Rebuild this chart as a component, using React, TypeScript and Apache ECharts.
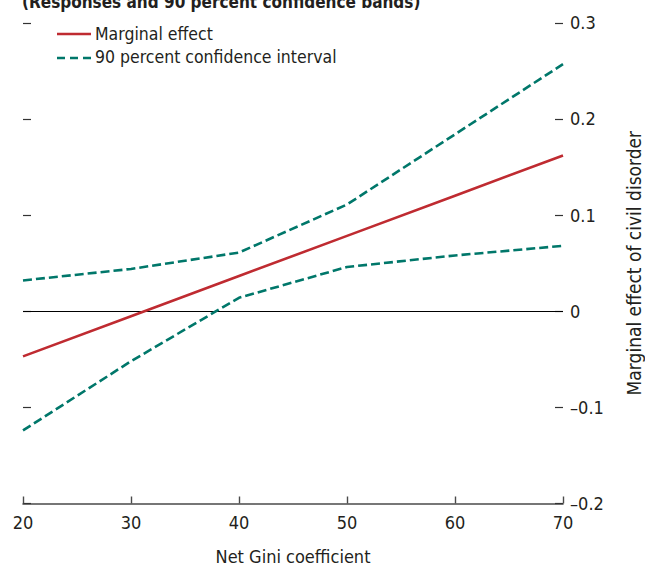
import React, { useEffect, useRef } from "react";
import * as echarts from "echarts";

const gini = [20, 30, 40, 50, 60, 70];
const marginal = [-0.047, -0.0052, 0.0366, 0.0784, 0.1202, 0.162];
const upper = [0.032, 0.044, 0.061, 0.111, 0.184, 0.257];
const lower = [-0.124, -0.052, 0.014, 0.046, 0.058, 0.068];
const xTicks = [20, 30, 40, 50, 60, 70];
const yTicks = [-0.2, -0.1, 0, 0.1, 0.2, 0.3];

const title = "(Responses and 90 percent confidence bands)";
const legendNames = ["Marginal effect", "90 percent confidence interval"];
const xName = "Net Gini coefficient";
const yName = "Marginal effect of civil disorder";

const FONT = "'Liberation Sans Narrow', 'DejaVu Sans Condensed', 'Liberation Sans', sans-serif";
const RED = "#BF2B31";
const TEAL = "#00776A";
const TXT = "#231F20";

function fmtY(v: number) {
  const r = Math.round(v * 10) / 10;
  if (r === 0) return "0";
  const s = Math.abs(r).toFixed(1);
  return r < 0 ? "\u2013" + s : s;
}

export default function App() {
  const ref = useRef<HTMLDivElement>(null);
  useEffect(() => {
    if (!ref.current) return;
    const chart = echarts.init(ref.current, undefined, { renderer: "svg" });
    const pair = (ys: number[]) => gini.map((g, i) => [g, ys[i]]);
    chart.setOption({
      animation: false,
      backgroundColor: "#ffffff",
      textStyle: { fontFamily: FONT },
      grid: {
        left: 23,
        right: 82,
        top: 22.8,
        bottom: 64.5,
        containLabel: false,
        outerBoundsMode: "none",
      },
      xAxis: {
        type: "value",
        min: xTicks[0],
        max: xTicks[xTicks.length - 1],
        interval: 10,
        name: xName,
        nameLocation: "middle",
        nameGap: 44,
        nameTextStyle: { fontFamily: FONT, fontSize: 18, color: TXT },
        axisLine: { show: true, onZero: false, lineStyle: { color: "#4a4a4a", width: 1.6 } },
        axisTick: { show: true, inside: true, length: 7, lineStyle: { color: "#4a4a4a", width: 1.4 } },
        axisLabel: { fontFamily: FONT, fontSize: 18, color: TXT, margin: 10 },
        splitLine: { show: false },
      },
      yAxis: [
        {
          type: "value",
          position: "right",
          min: yTicks[0],
          max: yTicks[yTicks.length - 1],
          interval: 0.1,
          name: yName,
          nameLocation: "middle",
          nameGap: 61,
          nameRotate: 90,
          nameTextStyle: { fontFamily: FONT, fontSize: 19, color: TXT },
          axisLine: { show: false },
          axisTick: { show: true, inside: true, length: 8, lineStyle: { color: "#333", width: 1.2 } },
          axisLabel: { fontFamily: FONT, fontSize: 18, color: TXT, margin: 7, formatter: fmtY },
          splitLine: { show: false },
        },
        {
          type: "value",
          position: "left",
          min: yTicks[0],
          max: yTicks[yTicks.length - 1],
          interval: 0.1,
          axisLine: { show: false },
          axisTick: { show: true, inside: true, length: 8, lineStyle: { color: "#333", width: 1.2 } },
          axisLabel: { show: false },
          splitLine: { show: false },
        },
      ],
      series: [
        {
          name: legendNames[0],
          type: "line",
          data: pair(marginal),
          symbol: "none",
          lineStyle: { color: RED, width: 2.6 },
          z: 5,
          markLine: {
            silent: true,
            symbol: "none",
            label: { show: false },
            lineStyle: { color: "#000", width: 1, type: "solid" },
            data: [{ yAxis: 0 }],
            z: 1,
          },
        },
        {
          name: legendNames[1],
          type: "line",
          data: pair(upper),
          symbol: "none",
          lineStyle: { color: TEAL, width: 2.6, type: [9, 4] },
          z: 4,
        },
        {
          name: legendNames[1],
          type: "line",
          data: pair(lower),
          symbol: "none",
          lineStyle: { color: TEAL, width: 2.6, type: [9, 4] },
          z: 4,
        },
      ],
      graphic: [
        {
          type: "text",
          left: 22,
          top: -7,
          style: { text: title, fontFamily: FONT, fontSize: 17, fontWeight: "bold", fill: TXT },
        },
        {
          type: "line",
          shape: { x1: 57, y1: 34, x2: 91, y2: 34 },
          style: { stroke: RED, lineWidth: 2.6 },
        },
        {
          type: "text",
          x: 95,
          y: 33.5,
          style: { text: legendNames[0], fontFamily: FONT, fontSize: 17.5, fill: TXT, verticalAlign: "middle" },
        },
        {
          type: "line",
          shape: { x1: 57, y1: 58, x2: 91, y2: 58 },
          style: { stroke: TEAL, lineWidth: 2.6, lineDash: [8, 5] },
        },
        {
          type: "text",
          x: 95,
          y: 57,
          style: { text: legendNames[1], fontFamily: FONT, fontSize: 17.5, fill: TXT, verticalAlign: "middle" },
        },
      ],
    });
    return () => chart.dispose();
  }, []);
  return (
    <div
      ref={ref}
      style={{ position: "fixed", left: 0, top: 0, width: 645, height: 568, background: "#fff" }}
    />
  );
}
